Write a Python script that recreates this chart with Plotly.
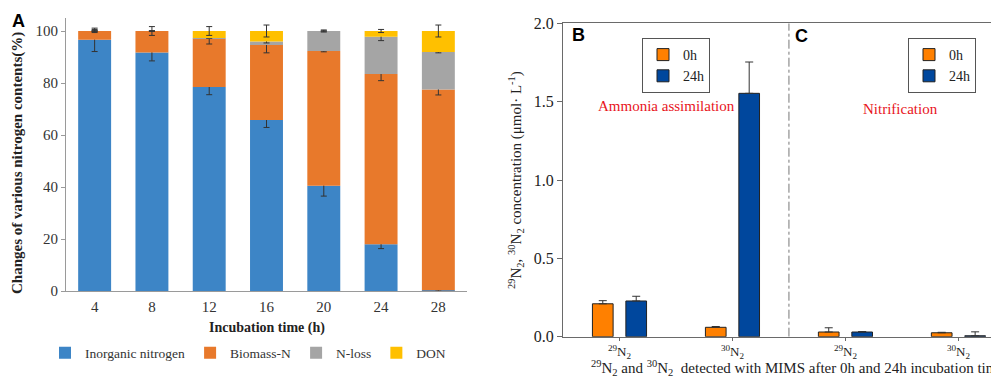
import numpy as np
import plotly.graph_objects as go

# ---------------- Panel A data ----------------
hours = ["4", "8", "12", "16", "20", "24", "28"]
inorganic = [96.6, 91.7, 78.5, 65.8, 40.5, 18.0, 0.3]
biomass = [3.4, 8.3, 18.5, 28.8, 51.8, 65.5, 77.2]
nloss = [0.0, 0.0, 0.3, 1.4, 7.7, 14.3, 14.4]
don = [0.0, 0.0, 2.7, 4.0, 0.0, 2.2, 8.1]
inorganic_err = [4.5, 3.2, 3.0, 2.9, 4.0, 1.7, 0.3]
biomass_err = [0.6, 1.7, 2.0, 3.0, 0.3, 2.6, 2.1]
nloss_err = [0.0, 0.0, 0.0, 0.6, 0.4, 1.5, 0.3]
don_err = [0.0, 0.0, 1.7, 2.3, 0.0, 0.6, 2.3]
series_a = ["Inorganic nitrogen", "Biomass-N", "N-loss", "DON"]

# ---------------- Panels B / C data ----------------
iso_cats = ["B29", "B30", "C29", "C30"]
iso_labels = ["<sup>29</sup>N<sub>2</sub>", "<sup>30</sup>N<sub>2</sub>",
              "<sup>29</sup>N<sub>2</sub>", "<sup>30</sup>N<sub>2</sub>"]
b_0h = [0.21, 0.06]
b_0h_err = [0.02, 0.005]
b_24h = [0.228, 1.553]
b_24h_err = [0.03, 0.2]
c_0h = [0.03, 0.025]
c_0h_err = [0.027, 0.003]
c_24h = [0.03, 0.006]
c_24h_err = [0.003, 0.025]

SERIF = "Liberation Serif"
SANS = "Liberation Sans"
colors_a = ["#3D85C6", "#E8792B", "#A5A5A5", "#FFC000"]
C0 = "#FF8000"
C24 = "#00479D"

fig = go.Figure()

vals_a = [inorganic, biomass, nloss, don]
errs_a = [inorganic_err, biomass_err, nloss_err, don_err]
base = np.zeros(len(hours))
for name, v, e, c in zip(series_a, vals_a, errs_a, colors_a):
    fig.add_trace(go.Bar(
        x=hours, y=v, base=base.copy(), name=name, marker_color=c,
        marker_line_width=0, width=0.575, offset=-0.2875,
        error_y=dict(type="data", array=e, color="#333333", thickness=1, width=3),
        xaxis="x", yaxis="y", legend="legend", hoverinfo="skip",
    ))
    base = base + np.array(v)

W = 0.183
def add_iso(xs, ys, errs, name, color, off, leg):
    fig.add_trace(go.Bar(
        x=xs, y=ys, name=name, marker_color=color,
        marker_line=dict(color="#222222", width=1), width=W, offset=off,
        error_y=dict(type="data", array=errs, arrayminus=[0] * len(errs), symmetric=False,
                     color="#333333", thickness=1, width=4),
        xaxis="x2", yaxis="y2", legend=leg, hoverinfo="skip",
    ))

add_iso(iso_cats[:2], b_0h, b_0h_err, "0h", C0, -0.2395, "legend2")
add_iso(iso_cats[:2], b_24h, b_24h_err, "24h", C24, 0.0565, "legend2")
add_iso(iso_cats[2:], c_0h, c_0h_err, "0h", C0, -0.2395, "legend3")
add_iso(iso_cats[2:], c_24h, c_24h_err, "24h", C24, 0.0565, "legend3")

# the page places the figure 8px from the top-left corner
OFF = 8.0
H = 379.0
Wd = 999.0
def py(p):
    return 1 - (p - OFF) / H
def px(p):
    return (p - OFF) / Wd

fig.update_layout(
    width=999, height=379, margin=dict(l=0, r=0, t=0, b=0, pad=0, autoexpand=False),
    paper_bgcolor="white", plot_bgcolor="white", barmode="overlay",
    font=dict(family=SERIF, color="#222222"),
    xaxis=dict(domain=[px(66), px(467)], type="category", range=[-0.5, 6.5],
               showline=True, linecolor="#9a9a9a", linewidth=1,
               ticks="outside", ticklen=2, tickcolor="rgba(0,0,0,0)",
               tickfont=dict(size=15, family=SERIF, color="#333333"), showgrid=False,
               fixedrange=True),
    yaxis=dict(domain=[py(291), py(18)], range=[0, 105], tickvals=[0, 20, 40, 60, 80, 100],
               showline=True, linecolor="#9a9a9a", linewidth=1, ticks="outside",
               ticklen=4, tickcolor="#9a9a9a", showgrid=False, zeroline=False,
               tickfont=dict(size=15, family=SERIF, color="#333333"), anchor="x"),
    xaxis2=dict(domain=[px(563), 1.0], type="category", range=[-0.5, 3.43],
                categoryorder="array", categoryarray=iso_cats,
                tickvals=iso_cats, ticktext=iso_labels,
                showline=True, mirror=True, linecolor="#6a6a6a", linewidth=1,
                ticks="outside", ticklen=3, tickcolor="#6a6a6a", showgrid=False,
                tickfont=dict(size=13, family=SERIF, color="#222222"), anchor="y2"),
    yaxis2=dict(domain=[py(336.7), py(23.3)], range=[0, 2.0], tickvals=[0, 0.5, 1.0, 1.5, 2.0],
                tickformat=".1f", showline=True, linecolor="#6a6a6a", linewidth=1,
                ticks="outside", ticklen=5, tickcolor="#6a6a6a", showgrid=False, zeroline=False,
                tickfont=dict(size=16, family=SERIF, color="#222222"), anchor="x2"),
    legend=dict(orientation="h", x=px(248), xanchor="center", y=py(353), yanchor="middle",
                font=dict(size=13.5, family=SERIF, color="#333333"), itemwidth=30,
                bgcolor="rgba(0,0,0,0)", traceorder="normal"),
    legend2=dict(x=px(642), y=py(38), xanchor="left", yanchor="top",
                 bordercolor="#555555", borderwidth=1, bgcolor="white",
                 font=dict(size=14, family=SERIF, color="#222222")),
    legend3=dict(x=px(908), y=py(38), xanchor="left", yanchor="top",
                 bordercolor="#555555", borderwidth=1, bgcolor="white",
                 font=dict(size=14, family=SERIF, color="#222222")),
    showlegend=True,
)

fig.add_shape(type="line", xref="x2", yref="y2", x0=1.5, x1=1.5, y0=0, y1=2.0,
              line=dict(color="#777777", width=1, dash="dashdot"))

ann = [
    dict(text="<b>A</b>", x=px(18), y=py(21), font=dict(family=SANS, size=18, color="black")),
    dict(text="<b>B</b>", x=px(578), y=py(35), font=dict(family=SANS, size=18, color="black")),
    dict(text="<b>C</b>", x=px(801), y=py(36), font=dict(family=SANS, size=18, color="black")),
    dict(text="<b>Changes of various nitrogen contents(%)</b>", x=px(17), y=py(163),
         textangle=-90, font=dict(family=SERIF, size=15, color="#222222")),
    dict(text="<b>Incubation time (h)</b>", x=px(267), y=py(328),
         font=dict(family=SERIF, size=14, color="#222222")),
    dict(text="Ammonia assimilation", x=px(666), y=py(106),
         font=dict(family=SERIF, size=15, color="#E8141C")),
    dict(text="Nitrification", x=px(900), y=py(109),
         font=dict(family=SERIF, size=15, color="#E8141C")),
    dict(text="<sup>29</sup>N<sub>2</sub>, <sup>30</sup>N<sub>2</sub> concentration (μmol· L<sup>-1</sup>)",
         x=px(516), y=py(180), textangle=-90, font=dict(family=SERIF, size=15, color="#222222")),
]
for a in ann:
    a.update(xref="paper", yref="paper", showarrow=False, xanchor="center", yanchor="middle")
    fig.add_annotation(**a)

fig.add_annotation(text="<sup>29</sup>N<sub>2</sub> and <sup>30</sup>N<sub>2</sub>  detected with MIMS after 0h and 24h incubation time",
                   xref="paper", yref="paper", x=px(589), y=py(368), xanchor="left", yanchor="middle",
                   showarrow=False, font=dict(family=SERIF, size=15, color="#222222"))

fig.write_html("out.html")
